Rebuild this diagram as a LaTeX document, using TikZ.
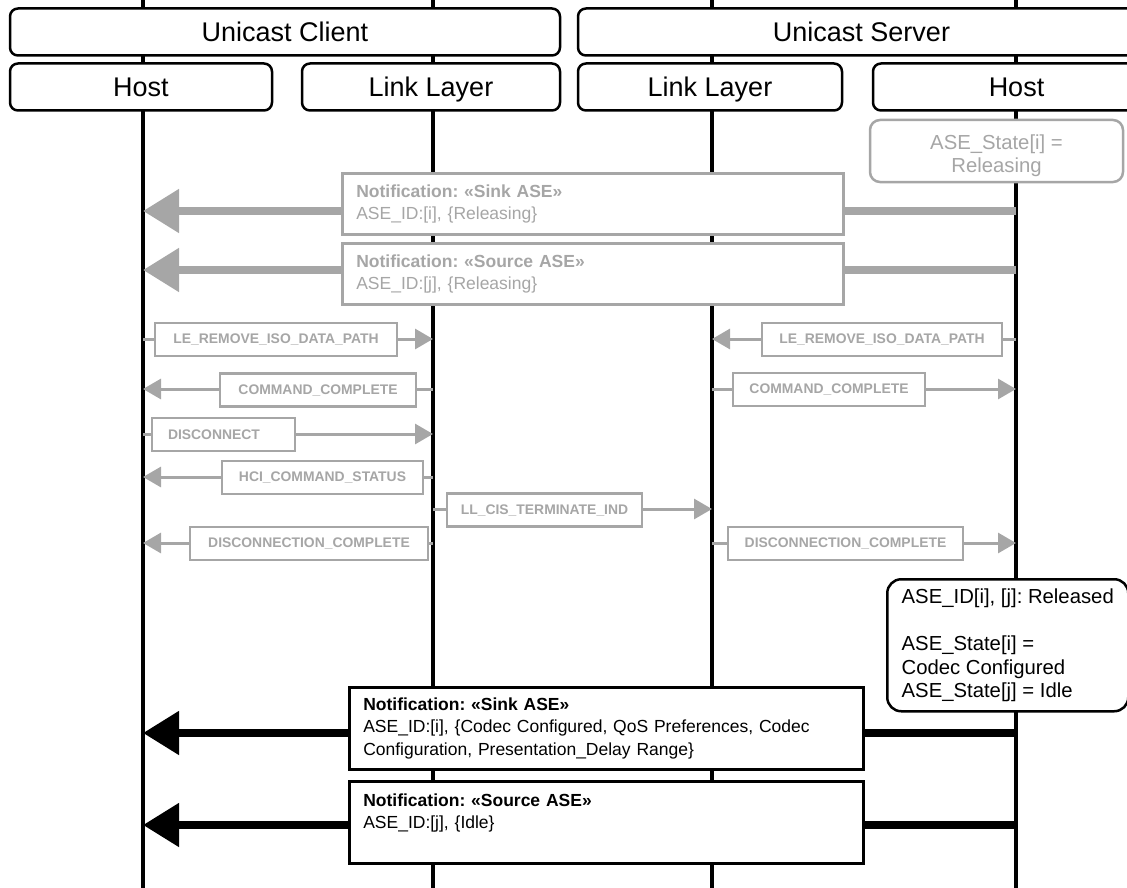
\documentclass[tikz,border=0pt]{standalone}
\usepackage{fontspec}
\setmainfont{Liberation Sans}
\usetikzlibrary{arrows.meta}
\frenchspacing

\definecolor{faded}{HTML}{A6A6A6}
\newcommand{\headfont}{\fontsize{27}{32}\selectfont}
\newcommand{\notefont}{\fontsize{17.5}{22.5}\selectfont}
\newcommand{\msgfont}{\fontsize{13.9}{16}\selectfont\bfseries}
\newcommand{\statefont}{\fontsize{20.3}{23.7}\selectfont}

\tikzset {
  head box/.style = {
    draw, line width=2.5pt, rounded corners=8pt, fill=white,
    minimum height=47pt, inner sep=0pt, font=\headfont,
    text height=19.5pt, text depth=0pt
  },
  lifeline/.style = {line width=3.8pt},
  note box/.style = {
    draw, line width=2.5pt, fill=white, font=\notefont, align=left,
    anchor=north west, inner xsep=14pt, inner ysep=0pt
  },
  faded note/.style = {note box, draw=faded, text=faded},
  msg box/.style = {
    draw=faded, line width=2.5pt, fill=white, text=faded,
    font=\msgfont, minimum height=33pt, inner sep=0pt
  },
  state box/.style = {
    draw, line width=2.5pt, rounded corners=14pt, fill=white,
    font=\statefont, inner xsep=10pt, inner ysep=0pt
  },
  big arrow/.style = {line width=8pt, -{Triangle[length=36pt, width=42pt]}},
  small arrow/.style = {faded, line width=3pt, -{Triangle[length=18pt, width=20pt]}}
}

\begin{document}
\begin{tikzpicture}[x=1pt, y=-1pt]

\useasboundingbox (0,0) rectangle (1127,888);
\clip (0,0) rectangle (1127,888);

% --- Lifelines ---
\coordinate (cHtop) at (143,0);  \coordinate (cHbot) at (143,888);
\coordinate (cLtop) at (433,0);  \coordinate (cLbot) at (433,888);
\coordinate (sLtop) at (712,0);  \coordinate (sLbot) at (712,888);
\coordinate (sHtop) at (1016,0); \coordinate (sHbot) at (1016,888);
\foreach \nm in {cH, cL, sL, sH}
  \draw[lifeline] (\nm top) -- (\nm bot);

% --- Message rows ---
\coordinate (rowA) at (0,211);
\coordinate (rowB) at (0,270);
\coordinate (row1) at (0,339);
\coordinate (row2) at (0,389);
\coordinate (row3) at (0,434);
\coordinate (row4) at (0,477);
\coordinate (row5) at (0,509);
\coordinate (row6) at (0,543);
\coordinate (rowC) at (0,733);
\coordinate (rowD) at (0,825);

% --- Arrows ---
\draw[big arrow, faded] (sHtop |- rowA) -- (cHtop |- rowA);
\draw[big arrow, faded] (sHtop |- rowB) -- (cHtop |- rowB);

\draw[small arrow] (cHtop |- row1) -- (cLtop |- row1);
\draw[small arrow] (sHtop |- row1) -- (sLtop |- row1);
\draw[small arrow] (cLtop |- row2) -- (cHtop |- row2);
\draw[small arrow] (sLtop |- row2) -- (sHtop |- row2);
\draw[small arrow] (cHtop |- row3) -- (cLtop |- row3);
\draw[small arrow] (cLtop |- row4) -- (cHtop |- row4);
\draw[small arrow] (cLtop |- row5) -- (sLtop |- row5);
\draw[small arrow] (cLtop |- row6) -- (cHtop |- row6);
\draw[small arrow] (sLtop |- row6) -- (sHtop |- row6);

\draw[big arrow] (sHtop |- rowC) -- (cHtop |- rowC);
\draw[big arrow] (sHtop |- rowD) -- (cHtop |- rowD);

% --- Header boxes ---
\node[head box, minimum width=550pt] (client) at (285,32) {Unicast Client};
\node[head box, minimum width=567pt] (server) at (861.5,32) {Unicast Server};
\node[head box, minimum width=262pt] (hostC) at (141,87) {Host};
\node[head box, minimum width=258pt] (llC) at (431,87) {Link Layer};
\node[head box, minimum width=264pt] (llS) at (710,87) {Link Layer};
\node[head box, minimum width=287pt] (hostS) at (1016.5,87) {Host};

% --- Releasing state ---
\node[state box, draw=faded, text=faded, align=center, rounded corners=10pt,
      minimum width=253pt, minimum height=62pt, text height=48pt] (relState) at (996.5,151)
  {ASE\_State[i] =\\Releasing};

% --- Releasing notifications ---
\node[faded note, text width=473pt, minimum height=61pt] (sinkRel) at (341,172)
  {\textbf{Notification: «Sink ASE»}\\ASE\_ID:[i], \{Releasing\}};
\node[faded note, text width=473pt, minimum height=61pt] (srcRel) at (341,242)
  {\textbf{Notification: «Source ASE»}\\ASE\_ID:[j], \{Releasing\}};

% --- HCI / LL messages ---
\node[msg box, minimum width=242pt] (cRem) at (276,339.5) {LE\_REMOVE\_ISO\_DATA\_PATH};
\node[msg box, minimum width=240pt] (sRem) at (882,339.5) {LE\_REMOVE\_ISO\_DATA\_PATH};
\node[msg box, minimum width=196pt] (cCmp) at (318,390) {COMMAND\_COMPLETE};
\node[msg box, minimum width=192pt] (sCmp) at (829,389.5) {COMMAND\_COMPLETE};
\node[msg box, text width=111pt, align=left, inner xsep=16pt] (disc) at (223.5,434.5) {DISCONNECT};
\node[msg box, minimum width=201pt] (hciSt) at (322.5,477.5) {HCI\_COMMAND\_STATUS};
\node[msg box, minimum width=195pt] (llTerm) at (544.5,510) {LL\_CIS\_TERMINATE\_IND};
\node[msg box, minimum width=238pt] (cDisc) at (309,543.5) {DISCONNECTION\_COMPLETE};
\node[msg box, minimum width=235pt] (sDisc) at (845.5,543.5) {DISCONNECTION\_COMPLETE};

% --- Released state ---
\node[state box, anchor=north west, align=left, minimum width=241pt,
      minimum height=132pt] (idleState) at (886,578)
  {ASE\_ID[i], [j]: Released\\ \mbox{}\\ ASE\_State[i] =\\Codec Configured\\ASE\_State[j] = Idle};

% --- Final notifications ---
\node[note box, text width=486pt, minimum height=82pt] (sinkCfg) at (348,686)
  {\textbf{Notification: «Sink ASE»}\\ASE\_ID:[i], \{Codec Configured, QoS Preferences, Codec Configuration, Presentation\_Delay Range\}};
\node[note box, text width=486pt, minimum height=82pt] (srcIdle) at (348,780)
  {\textbf{Notification: «Source ASE»}\\ASE\_ID:[j], \{Idle\}\\ \mbox{}};

\end{tikzpicture}
\end{document}
